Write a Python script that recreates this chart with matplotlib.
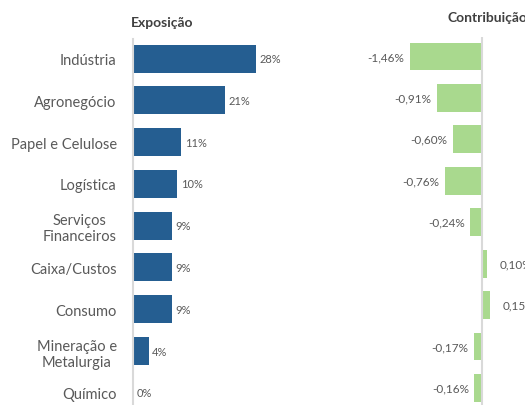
import matplotlib.pyplot as plt

# ── Data ──────────────────────────────────────────────────────────────────────
categories = [
    "Indústria", "Agronegócio", "Papel e Celulose", "Logística",
    "Serviços\nFinanceiros", "Caixa/Custos", "Consumo",
    "Mineração e\nMetalurgia", "Químico",
]
exposure = [28, 21, 11, 10, 8.8, 8.8, 8.8, 3.5, 0]
contribution = [-1.46, -0.91, -0.60, -0.76, -0.24, 0.10, 0.15, -0.17, -0.16]

BLUE = "#255e91"
GREEN = "#a9d98e"
TEXT = "#595959"
LINE = "#d9d9d9"

plt.rcParams["font.family"] = ["Lato", "DejaVu Sans"]

W, H = 525, 406
fig = plt.figure(figsize=(W / 100, H / 100), dpi=100)


def fig_axes(x0, x1, y0, y1):
    """Axes from pixel coordinates (top-left origin)."""
    return fig.add_axes([x0 / W, 1 - y1 / H, (x1 - x0) / W, (y1 - y0) / H])


# ── Exposição ─────────────────────────────────────────────────────────────────
ax1 = fig_axes(133.3, 330, 40, 406)
pos = list(range(len(categories)))
ax1.barh(pos, exposure, height=0.67, color=BLUE)
ax1.set_xlim(0, (330 - 133.3) / 4.38)
ax1.set_ylim(8.29, -0.467)
for y, v in zip(pos, exposure):
    ax1.annotate(f"{v:.0f}%", (v, y), xytext=(2.5, 0), textcoords="offset points",
                 va="center", ha="left", fontsize=8, color=TEXT)
ax1.set_yticks(pos)
ax1.set_yticklabels(categories, fontsize=10.5, color=TEXT, multialignment="center")
ax1.tick_params(axis="y", length=0, pad=12)
ax1.set_xticks([])
for s in ["top", "right", "bottom"]:
    ax1.spines[s].set_visible(False)
ax1.spines["left"].set_color(LINE)
ax1.spines["left"].set_linewidth(1.5)
fig.text(162 / W, 1 - 23 / H, "Exposição", ha="center", va="center",
         fontsize=10, fontweight="bold", color="#404040")

# ── Contribuição ──────────────────────────────────────────────────────────────
ax2 = fig_axes(340, 525, 38, 406)
ax2.barh(pos, contribution, height=0.67, color=GREEN)
ax2.set_xlim(-(482.3 - 340) / 49.5, (525 - 482.3) / 49.5)
ax2.set_ylim(8.41, -0.47)
ax2.axvline(0, color=LINE, linewidth=1.5)
for y, v in zip(pos, contribution):
    label = f"{v:.2f}%".replace(".", ",")
    if v < 0:
        ax2.annotate(label, (v, y), xytext=(-4, 0), textcoords="offset points",
                     va="center", ha="right", fontsize=8.5, color=TEXT,
                     annotation_clip=False)
    else:
        ax2.annotate(label, (v, y), xytext=(9, 0), textcoords="offset points",
                     va="center", ha="left", fontsize=8.5, color=TEXT,
                     annotation_clip=False)
ax2.axis("off")
fig.text(447 / W, 1 - 18 / H, "Contribuição", ha="left", va="center",
         fontsize=10, fontweight="bold", color="#404040")

fig.savefig("out.png", dpi=100)
